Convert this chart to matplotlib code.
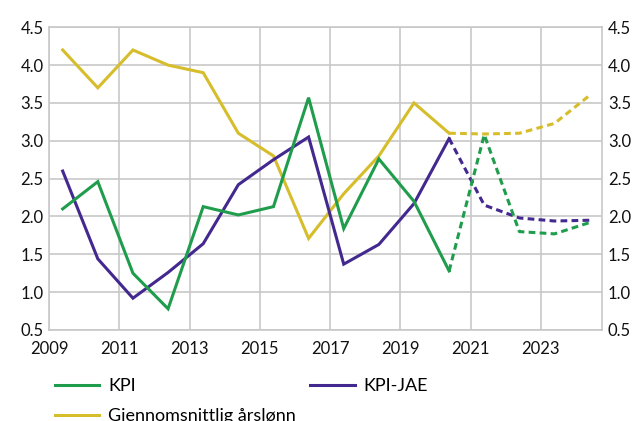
import matplotlib
matplotlib.use("Agg")
import matplotlib.pyplot as plt
import numpy as np
from matplotlib.lines import Line2D

years = list(range(2009, 2025))
kpi = [2.1, 2.46, 1.25, 0.78, 2.13, 2.02, 2.13, 3.57, 1.84, 2.76, 2.2, 1.28, 3.08, 1.8, 1.77, 1.92]
kpi_jae = [2.6, 1.44, 0.92, 1.26, 1.64, 2.42, 2.75, 3.05, 1.37, 1.63, 2.17, 3.03, 2.15, 1.98, 1.94, 1.95]
lonn = [4.2, 3.7, 4.2, 4.0, 3.9, 3.1, 2.8, 1.71, 2.3, 2.8, 3.5, 3.1, 3.09, 3.1, 3.23, 3.6]
forecast_start = 2020
xticks = [2009, 2011, 2013, 2015, 2017, 2019, 2021, 2023]
yticks = [0.5, 1.0, 1.5, 2.0, 2.5, 3.0, 3.5, 4.0, 4.5]

c_kpi = "#1f9d4c"
c_jae = "#43298f"
c_lonn = "#d6bd2b"
grid_c = "#c8c8c8"

plt.rcParams['font.family'] = ['Lato', 'DejaVu Sans']
fs = 12
lfs = 13

fig = plt.figure(figsize=(6.37, 4.21), dpi=100)
ax = fig.add_axes([0.0769, 0.2162, 0.8686, 0.719])

x = np.array(years) + 0.39
i0 = years.index(forecast_start)
lw = 2.2
for vals, c in [(lonn, c_lonn), (kpi_jae, c_jae), (kpi, c_kpi)]:
    v = np.array(vals)
    ax.plot(x[:i0 + 1], v[:i0 + 1], color=c, lw=lw, solid_joinstyle='miter')
    ax.plot(x[i0:], v[i0:], color=c, lw=lw, ls=(0, (2.2, 1.4)))

ax.set_xlim(2009, 2024.75)
ax.set_ylim(0.5, 4.5)
ax.set_xticks(xticks)
ax.set_yticks(yticks)
ax.set_yticklabels([f"{t:.1f}" for t in yticks])
ax.grid(True, color=grid_c, lw=1.2)
ax.set_axisbelow(True)
for s in ax.spines.values():
    s.set_color(grid_c)
    s.set_linewidth(1.2)
ax.tick_params(length=0, labelsize=fs, pad=4, colors="#111111")
ax.tick_params(axis='x', pad=8)
ax.tick_params(axis='y', labelright=True, right=False)

handles = [Line2D([], [], color=c_kpi, lw=lw), Line2D([], [], color=c_lonn, lw=lw),
           Line2D([], [], color=c_jae, lw=lw)]
labels = ["KPI", "Gjennomsnittlig årslønn", "KPI-JAE"]
fig.legend(handles, labels, ncol=2, loc='upper left', bbox_to_anchor=(0.0863, 0.101),
           frameon=False, fontsize=lfs, handlelength=2.45, handletextpad=0.5,
           columnspacing=0.8, labelspacing=0.75, borderpad=0, borderaxespad=0)

fig.savefig("out.png", dpi=100)
